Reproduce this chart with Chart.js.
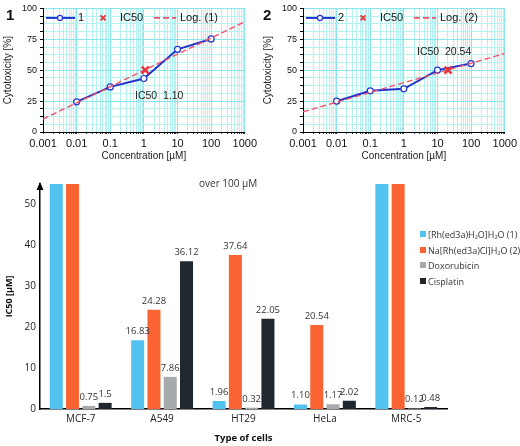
<!DOCTYPE html>
<html>
<head>
<meta charset="utf-8">
<script src="https://cdn.jsdelivr.net/npm/chart.js@4/dist/chart.umd.min.js"></script>
<style>
body{margin:0;background:#fff;width:520px;height:446px;position:relative;overflow:hidden;font-family:"Liberation Sans",Arial,sans-serif}
canvas{position:absolute}
.t{position:absolute;white-space:nowrap;color:#222}
.panel{font-weight:bold;font-size:15px;color:#111}
.ic{font-size:10.5px}
#legend{position:absolute;left:420px;top:228px;font-family:"Open Sans",sans-serif;font-size:9px;color:#333}
#legend div{height:15.7px;line-height:13px;white-space:nowrap}
#legend span{display:inline-block;width:6px;height:6px;margin-right:2px;vertical-align:1px}
</style>
</head>
<body>
<canvas id="c1" width="260" height="162" style="left:0;top:0"></canvas>
<canvas id="c2" width="260" height="162" style="left:260px;top:0"></canvas>
<canvas id="c3" width="520" height="281" style="left:0;top:165px"></canvas>
<div class="t panel" style="left:6px;top:6px">1</div>
<div class="t panel" style="left:263px;top:6px">2</div>
<div class="t ic" style="left:135px;top:89px">IC50&nbsp; 1.10</div>
<div class="t ic" style="left:417px;top:45px">IC50&nbsp; 20.54</div>
<div class="t" style="left:199px;top:176px;font-family:'Open Sans',sans-serif;font-size:10px;color:#333">over 100 µM</div>
<div id="legend"></div>
<script>
// top panels: cytotoxicity vs concentration
const conc = [0.01, 0.1, 1, 10, 100];
const tox1 = [24.4, 36.5, 43.3, 66.9, 75.3];
const tox2 = [24.9, 33.3, 34.9, 50.1, 55.4];
const ic50x1 = 1.10, ic50x2 = 20.54;
const fitX = [0.001, 1000];
const fit1 = [10.5, 89.2];
const fit2 = [16.3, 63.5];
const xTicks = [0.001, 0.01, 0.1, 1, 10, 100, 1000];
const yTicks = [0, 25, 50, 75, 100];

// bottom panel: IC50 per cell line (bars "over 100" are cut at the axis top)
const cells = ['MCF-7', 'A549', 'HT29', 'HeLa', 'MRC-5'];
const seriesNames = ['[Rh(ed3a)H₂O]H₂O (1)', 'Na[Rh(ed3a)Cl]H₂O (2)', 'Doxorubicin', 'Cisplatin'];
const rh1 = [100, '16.83', '1.96', '1.10', 100];
const rh2 = [100, '24.28', '37.64', '20.54', 100];
const doxo = ['0.75', '7.86', '0.32', '1.17', '0.12'];
const cispt = ['1.5', '36.12', '22.05', '2.02', '0.48'];
const barColors = ['#52c2f0', '#fa6432', '#a7aaac', '#1f282e'];
const icTicks = [0, 10, 20, 30, 40, 50];

const blue = '#2233cc', red = '#e8363c', pink = '#f0506a';

// minor log gridlines 1..9 per decade
let logTicks = [];
xTicks.forEach((v, i) => {
  logTicks.push(v);
  if (i < xTicks.length - 1) for (let d = 2; d <= 9; d++) logTicks.push(v * d);
});

const inLegend = {
  id: 'inLegend',
  afterDraw(chart) {
    const {ctx, chartArea: a} = chart;
    const ds = chart.data.datasets;
    const y = a.top + 9.5;
    const x0 = a.left;
    ctx.save();
    ctx.font = '11px "Liberation Sans", Arial';
    ctx.fillStyle = '#111';
    ctx.textBaseline = 'middle';
    // line + marker
    ctx.strokeStyle = blue; ctx.lineWidth = 2;
    ctx.beginPath(); ctx.moveTo(x0 + 3, y); ctx.lineTo(x0 + 32, y); ctx.stroke();
    ctx.fillStyle = '#fff'; ctx.lineWidth = 1.2;
    ctx.beginPath(); ctx.arc(x0 + 17, y, 2.5, 0, Math.PI * 2); ctx.fill(); ctx.stroke();
    ctx.fillStyle = '#111';
    ctx.fillText(ds[0].label, x0 + 35, y);
    // cross
    ctx.strokeStyle = red; ctx.lineWidth = 2;
    ctx.beginPath();
    ctx.moveTo(x0 + 57.5, y - 2.5); ctx.lineTo(x0 + 62.5, y + 2.5);
    ctx.moveTo(x0 + 62.5, y - 2.5); ctx.lineTo(x0 + 57.5, y + 2.5);
    ctx.stroke();
    ctx.fillText(ds[1].label, x0 + 77, y);
    // dashed
    ctx.strokeStyle = pink; ctx.lineWidth = 1.6; ctx.setLineDash([6, 3]);
    ctx.beginPath(); ctx.moveTo(x0 + 111, y); ctx.lineTo(x0 + 133, y); ctx.stroke();
    ctx.setLineDash([]);
    ctx.fillText(ds[2].label, x0 + 137, y);
    ctx.restore();
  }
};

function topChart(id, tox, icx, fit, n) {
  return new Chart(document.getElementById(id), {
    type: 'line',
    data: {
      datasets: [
        {label: String(n), data: conc.map((c, i) => ({x: c, y: tox[i]})), borderColor: blue, borderWidth: 2,
         pointBackgroundColor: '#fff', pointBorderColor: blue, pointBorderWidth: 1.2, pointRadius: 3, order: 2},
        {label: 'IC50', type: 'scatter', data: [{x: icx, y: 50}], pointStyle: 'crossRot', pointRadius: 5,
         borderColor: red, borderWidth: 2.5, order: 0},
        {label: 'Log. (' + n + ')', data: fitX.map((c, i) => ({x: c, y: fit[i]})), borderColor: pink,
         borderWidth: 1.4, borderDash: [6, 3], pointRadius: 0, order: 1}
      ]
    },
    options: {
      responsive: false, animation: false,
      layout: {padding: {top: 5, right: 13, left: 0, bottom: 0}},
      plugins: {legend: {display: false}, tooltip: {enabled: false}},
      scales: {
        x: {
          type: 'logarithmic', min: 0.001, max: 1000,
          afterBuildTicks: s => { s.ticks = logTicks.map(v => ({value: v})); },
          afterFit: s => { s.height = 30; },
          grid: {color: c => xTicks.includes(c.tick && c.tick.value) ? '#86e6ea' : '#b4f2f2', tickColor: '#333', tickLength: 2},
          border: {color: '#000', width: 1},
          ticks: {autoSkip: false, maxRotation: 0, padding: 3, color: '#111', font: {size: 11, family: '"Liberation Sans", Arial'},
                  callback: v => xTicks.includes(v) ? String(v) : ''},
          title: {display: true, text: 'Concentration [µM]', color: '#222', padding: {top: 0, bottom: 0},
                  font: {size: 10, family: '"Liberation Sans", Arial'}}
        },
        y: {
          min: 0, max: 100,
          afterFit: s => { s.width = 43; },
          grid: {color: c => yTicks.includes(c.tick && c.tick.value) ? '#86e6ea' : '#b4f2f2', tickColor: '#000', tickLength: 3},
          border: {color: '#000', width: 1},
          ticks: {stepSize: 6.25, autoSkip: false, padding: 3, color: '#111', font: {size: 9, family: '"Liberation Sans", Arial'},
                  callback: v => yTicks.includes(v) ? String(v) : ''},
          title: {display: true, text: 'Cytotoxicity [%]', color: '#222', padding: {top: 2, bottom: 0},
                  font: {size: 10, family: '"Liberation Sans", Arial'}}
        }
      }
    },
    plugins: [inLegend]
  });
}

topChart('c1', tox1, ic50x1, fit1, 1);
topChart('c2', tox2, ic50x2, fit2, 2);

// bottom bar chart
const barText = {
  id: 'barText',
  afterDatasetsDraw(chart) {
    const {ctx} = chart;
    const ymax = chart.scales.y.max;
    ctx.save();
    ctx.font = '9.5px "Open Sans", sans-serif';
    ctx.fillStyle = '#333';
    ctx.textAlign = 'center';
    ctx.textBaseline = 'bottom';
    chart.data.datasets.forEach((ds, i) => {
      chart.getDatasetMeta(i).data.forEach((bar, j) => {
        if (+ds.data[j] <= ymax) ctx.fillText(String(ds.data[j]), bar.x, bar.y - 4);
      });
    });
    // arrow at top of y axis
    const a = chart.chartArea;
    ctx.fillStyle = '#000';
    ctx.beginPath();
    ctx.moveTo(a.left, a.top - 2);
    ctx.lineTo(a.left - 3.5, a.top + 6);
    ctx.lineTo(a.left + 3.5, a.top + 6);
    ctx.closePath();
    ctx.fill();
    ctx.restore();
  }
};

const barData = [rh1, rh2, doxo, cispt];
new Chart(document.getElementById('c3'), {
  type: 'bar',
  data: {
    labels: cells,
    datasets: barData.map((d, i) => ({label: seriesNames[i], data: d, backgroundColor: barColors[i], clip: 0}))
  },
  options: {
    responsive: false, animation: false,
    layout: {padding: {top: 19, right: 73, left: 0, bottom: 0}},
    datasets: {bar: {categoryPercentage: 0.8, barPercentage: 0.8}},
    plugins: {legend: {display: false}, tooltip: {enabled: false}},
    scales: {
      x: {
        afterFit: s => { s.height = 37; },
        grid: {display: false, drawTicks: false},
        border: {color: '#000', width: 1.5},
        ticks: {padding: 4, color: '#222', font: {size: 10, family: '"Open Sans", sans-serif'}},
        title: {display: true, text: 'Type of cells', color: '#111', padding: {top: 0, bottom: 2},
                font: {size: 9.5, weight: 'bold', family: '"Open Sans", sans-serif'}}
      },
      y: {
        min: 0, max: 55,
        afterFit: s => { s.width = 40; },
        afterBuildTicks: s => { s.ticks = icTicks.map(v => ({value: v})); },
        grid: {display: false, drawTicks: false},
        border: {color: '#000', width: 1.5},
        ticks: {padding: 4, color: '#222', font: {size: 10, family: '"Open Sans", sans-serif'}},
        title: {display: true, text: 'IC50 [µM]', color: '#111', padding: {top: 4, bottom: 0},
                font: {size: 9, weight: 'bold', family: '"Open Sans", sans-serif'}}
      }
    }
  },
  plugins: [barText]
});

// html legend for bottom chart
document.getElementById('legend').innerHTML = seriesNames.map((n, i) =>
  '<div><span style="background:' + barColors[i] + '"></span>' + n + '</div>').join('');
</script>
</body>
</html>
